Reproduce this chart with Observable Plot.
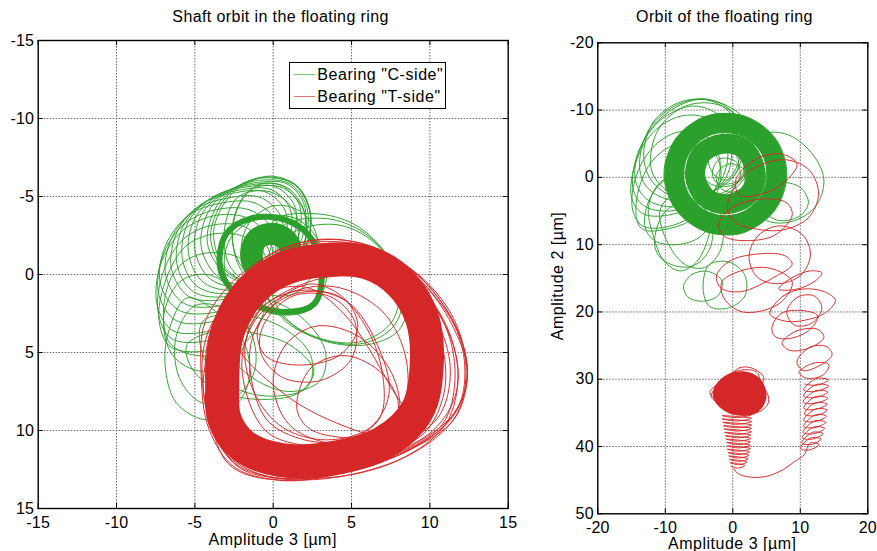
<!DOCTYPE html>
<html><head><meta charset="utf-8">
<script src="https://cdn.jsdelivr.net/npm/d3@7"></script>
<script src="https://cdn.jsdelivr.net/npm/@observablehq/plot@0.6"></script>
<style>
body{margin:0;background:#fff;}
#root{position:relative;width:877px;height:551px;overflow:hidden;font-family:"Liberation Sans",Arial,sans-serif;color:#000;background:#fff;}
#root svg{position:absolute;top:0;}
.t{position:absolute;font-size:16px;line-height:16px;white-space:nowrap;}
.c{transform:translateX(-50%);}
</style></head><body><div id="root"></div>
<script>
const GREEN = "#2ca02c", RED = "#d62728";

// ---------- tick values ----------
const leftXTicks = [-15, -10, -5, 0, 5, 10, 15];
const leftYTicks = [-15, -10, -5, 0, 5, 10, 15];
const rightXTicks = [-20, -10, 0, 10, 20];
const rightYTicks = [-20, -10, 0, 10, 20, 30, 40, 50];

// ---------- left panel: shaft orbit (x, y pairs, µm) ----------
const leftGreenLoops = [
 [0,-6.3, 1.6,-5.6, 2.4,-3.8, 2.0,-1.6, 0.6,0.2, -1.4,0.6, -3.2,-0.6, -3.8,-2.8, -2.8,-5.0, -1.4,-6.0],
 [-0.2,-6.25, 1.5,-5.7, 2.35,-4.0, 2.1,-1.8, 0.8,0.0, -1.2,0.6, -3.1,-0.3, -4.0,-2.4, -3.2,-4.7, -1.8,-5.9],
 [-0.4,-6.2, 1.3,-5.8, 2.3,-4.2, 2.2,-2.0, 1.0,-0.2, -1.0,0.6, -3.0,0.0, -4.2,-2.0, -3.6,-4.4, -2.2,-5.7],
 [-0.7,-6.05, 1.1,-5.8, 2.15,-4.3, 2.0,-2.1, 0.75,-0.2, -1.4,0.7, -3.5,0.15, -4.6,-1.8, -4.1,-4.1, -2.6,-5.5],
 [-1.0,-5.9, 0.9,-5.8, 2.0,-4.4, 1.8,-2.2, 0.5,-0.2, -1.8,0.8, -4.0,0.3, -5.0,-1.6, -4.6,-3.8, -3.0,-5.3],
 [-1.4,-5.75, 0.55,-5.7, 1.7,-4.35, 1.5,-2.1, 0.1,0.0, -2.2,1.0, -4.4,0.55, -5.4,-1.3, -5.0,-3.6, -3.4,-5.15],
 [-1.8,-5.6, 0.2,-5.6, 1.4,-4.3, 1.2,-2.0, -0.3,0.2, -2.6,1.2, -4.8,0.8, -5.8,-1.0, -5.4,-3.4, -3.8,-5.0],
 [-2.2,-5.4, -0.15,-5.45, 1.1,-4.15, 0.9,-1.8, -0.55,0.4, -2.9,1.4, -5.1,1.1, -6.15,-0.7, -5.75,-3.1, -4.2,-4.75],
 [-2.6,-5.2, -0.5,-5.3, 0.8,-4.0, 0.6,-1.6, -0.8,0.6, -3.2,1.6, -5.4,1.4, -6.5,-0.4, -6.1,-2.8, -4.6,-4.5],
 [-2.9,-4.9, -0.85,-4.95, 0.5,-3.7, 0.4,-1.4, -1.0,0.9, -3.4,2.0, -5.7,1.85, -6.85,0.1, -6.5,-2.3, -5.0,-4.15],
 [-3.2,-4.6, -1.2,-4.6, 0.2,-3.4, 0.2,-1.2, -1.2,1.2, -3.6,2.4, -6.0,2.3, -7.2,0.6, -6.9,-1.8, -5.4,-3.8],
 [-3.4,-4.2, -1.4,-4.1, 0,-2.8, 0,-0.6, -1.4,1.8, -3.8,3.0, -6.2,2.95, -7.3,1.3, -7.05,-1.2, -5.6,-3.3],
 [-3.6,-3.8, -1.6,-3.6, -0.2,-2.2, -0.2,0.0, -1.6,2.4, -4.0,3.6, -6.4,3.6, -7.4,2.0, -7.2,-0.6, -5.8,-2.8],
 [-3.7,-3.2, -1.7,-3.0, -0.3,-1.6, -0.35,0.7, -1.8,3.1, -4.2,4.25, -6.5,4.1, -7.35,2.4, -7.0,-0.2, -5.7,-2.3],
 [-3.8,-2.6, -1.8,-2.4, -0.4,-1.0, -0.5,1.4, -2.0,3.8, -4.4,4.9, -6.6,4.6, -7.3,2.8, -6.8,0.2, -5.6,-1.8],
 [-4.0,-1.4, -2.0,-1.0, -0.6,0.6, -0.8,3.0, -2.4,4.8, -4.8,5.2, -6.6,4.4, -7.0,2.2, -6.4,0.0, -5.4,-1.0],
 [-1.5,-5.4, 0.5,-5.6, 1.9,-4.2, 2.0,-1.8, 1.0,0.2, -0.8,0.5, -2.2,-0.8, -2.6,-3.2],
 [-2.2,-5.0, -0.2,-5.3, 1.4,-4.0, 1.5,-1.6, 0.4,0.4, -1.4,0.6, -2.8,-0.6, -3.1,-3.0],
 [-0.8,-5.8, 1.0,-5.5, 2.1,-3.6, 1.6,-1.0, 0.0,0.4, -1.8,0.0, -2.6,-2.2, -2.1,-4.6],
 [-5.5,1.5, -3.5,2.5, -1.8,4.5, -1.6,7.0, -2.8,8.8, -4.4,9.3, -6.2,8.2, -6.9,5.8, -6.6,3.4],
 [-6.0,0.5, -4.2,0.0, -2.4,1.2, -1.6,3.6, -2.6,5.6, -4.6,6.2, -6.4,5.2, -7.0,2.8],
 [-5.0,2.0, -3.0,2.2, -1.4,3.8, -1.2,6.2, -2.6,8.0, -4.6,8.2, -6.0,6.6, -6.2,4.0],
 [-5.5,4.5, -3.5,3.6, -1.0,3.8, 1.2,4.6, 2.6,6.2, 1.6,7.6, -1.0,8.0, -3.6,7.4, -5.2,6.0],
 [-4.5,3.0, -2.0,2.6, 0.6,3.4, 2.4,5.2, 2.2,7.2, 0.0,7.8, -2.6,7.2, -4.4,5.4],
 [0.5,-3.0, 3.2,-3.6, 5.6,-2.8, 7.6,-0.8, 8.6,1.6, 8.0,3.6, 6.0,4.5, 3.4,4.3, 1.2,3.2, -0.4,1.2],
 [0,-3.4, 2.6,-3.9, 5.2,-3.2, 7.3,-1.2, 8.3,1.2, 7.7,3.3, 5.8,4.4, 3.2,4.2, 0.8,3.0, -0.6,0.8],
 [1.0,-2.5, 4.0,-3.2, 6.5,-2.0, 8.0,0.5, 7.6,3.0, 5.6,4.3, 3.0,4.1, 0.8,2.8, -0.2,0.6],
 [-3.0,0.2, -2.8,-2.2, -1.0,-3.6, 1.4,-3.6, 3.0,-2.0, 3.4,0.3, 2.4,2.2, 0.6,2.6, -1.4,2.0],
 [-2.0,-1.0, -1.6,-3.2, 0.0,-4.4, 1.8,-4.0, 2.8,-2.4, 2.6,-0.2, 1.4,1.2, -0.4,1.2],
 [-3.0,2.0, -1.0,1.5, 1.5,2.5, 3.3,4.8, 3.0,6.8, 1.0,7.5, -1.5,6.5, -3.2,4.4]
];
const leftGreenCore = [-1.4,-1.4, -1.0,-2.3, 0.1,-2.6, 1.0,-2.0, 1.1,-0.8, 0.4,0.0, -0.6,0.0, -1.2,-0.5];
const leftGreenRing = [-3.4,-0.5, -3.0,-2.6, -1.4,-3.6, 0.8,-3.5, 2.5,-2.2, 3.1,0.1, 2.6,1.9, 1.0,2.4, -1.0,2.0, -2.7,0.9];

const leftRedCore = [-3.25,7, -3.0,4.0, -1.8,1.5, 0.3,-0.2, 3,-0.9, 5.9,-0.8, 8.1,0.5, 9.5,2.8, 9.8,5.8, 9.2,8.7, 7,10.8, 3.6,11.8, 0.5,11.9, -1.9,11, -3.1,9.3];
const leftRedLoops = [
 [-4.5,7, -4.2,3.8, -2.5,1.2, 0,-1.2, 3,-2.1, 6.5,-1.6, 9.8,0.8, 12,4.2, 12.3,7.2, 10.8,9.8, 7.5,11.8, 3,13, -0.5,12.9, -3.2,11.3],
 [-4.2,7.5, -3.8,4.2, -2.2,1.6, 0.3,-0.9, 3.4,-1.9, 6.8,-1.4, 9.6,0.6, 11.6,3.6, 12.4,6.4, 11.4,9.2, 8.3,11.4, 3.8,12.8, 0,13, -2.8,11.8],
 [-4.6,6.4, -4.4,3.2, -3,0.9, -0.5,-1.1, 2.5,-2.2, 5.5,-2, 8.8,-0.3, 11.2,2.5, 12.2,5.5, 11.8,8.5, 9.5,10.6, 5.5,12.3, 1.2,13.2, -2.4,12.4, -4.1,9.9],
 [-4.3,6.8, -4.0,3.6, -2.6,1.0, -0.2,-1.3, 2.8,-2.2, 6.0,-1.9, 9.2,0.0, 11.6,3.2, 12.4,6.2, 11.6,9.2, 8.8,11.2, 4.5,12.7, 0.4,13.2, -2.9,12.1],
 [-4.4,8.0, -4.1,4.8, -2.8,2.0, -0.4,-0.2, 2.6,-1.4, 5.9,-1.6, 9.0,-0.2, 11.4,2.6, 12.3,5.8, 11.7,9.0, 9.0,11.4, 4.6,12.9, 0.6,13.1, -2.4,12.2],
 [-4.0,8.6, -3.9,5.6, -2.9,2.8, -0.8,0.4, 2.2,-1.0, 5.6,-1.2, 8.6,0.2, 10.8,2.9, 11.8,6.2, 11.0,9.6, 8.0,11.9, 3.8,13.0, 0.0,12.8, -2.8,11.6],
 [-3.9,6.9, -3.7,4.0, -2.3,1.5, 0.1,-0.3, 3.1,-1.2, 6.3,-1.0, 9.3,0.8, 11.1,3.6, 11.6,6.8, 10.8,9.6, 7.9,11.5, 3.4,12.6, -0.4,12.7, -3.0,11.2],
 [-3.8,7.3, -3.5,4.5, -2,2, 0.5,0.2, 3.5,-0.8, 6.5,-0.5, 9,1.2, 10.8,3.8, 11.3,6.6, 10.5,9.2, 7.8,11, 3.5,12.3, -0.2,12.4, -2.8,11],
 [-3.5,6.6, -3.2,3.9, -1.7,1.5, 0.8,-0.5, 4,-1.3, 7.2,-0.8, 9.9,1.4, 11.5,4.5, 11.7,7.5, 10.2,10, 6.6,11.8, 2.4,12.6, -1,12, -3,10.1],
 [-4,7.8, -3.6,5, -2.4,2.6, -0.2,0.6, 2.8,-0.6, 6,-0.4, 8.7,1.2, 10.3,4.2, 10.6,7.2, 9.6,9.8, 6.8,11.5, 2.8,12.6, -0.6,12.5, -3,11.4],
 [-3.2,7.2, -2.9,4.4, -1.6,2.0, 0.6,0.4, 3.5,-0.5, 6.4,-0.3, 8.9,1.4, 10.3,4.0, 10.6,7.0, 9.8,9.6, 7.2,11.2, 3.2,12.2, -0.2,12.0, -2.6,10.6],
 [-3.0,6.4, -2.8,3.7, -1.4,1.4, 1.0,-0.2, 4.0,-0.9, 7.0,-0.5, 9.4,1.4, 10.8,4.6, 10.9,7.6, 9.6,10.2, 6.2,11.7, 2.2,12.2, -1.0,11.4, -2.8,9.4],
 [-2.6,7.6, -2.3,4.6, -1.0,2.4, 1.2,0.9, 4.0,0.1, 6.8,0.4, 8.9,2.1, 9.9,4.9, 9.8,7.9, 8.6,10.0, 5.6,11.2, 2.0,11.6, -1.0,11.0, -2.4,9.6],
 [-1.5,5, -0.5,2.5, 1.5,1.2, 4.2,1.4, 6,3.5, 7,6.5, 6.8,9.2, 4.8,10.6, 2,10.6, -0.5,9.2],
 [-1,3.5, 0.5,1.5, 2.5,0.6, 4.6,1.6, 5.4,3.4, 4.2,5.2, 1.5,5.8, -0.5,5.2],
 [-2,6, -1.2,3, 1,1.2, 4,0.8, 7,2.4, 8.5,5.5, 8.2,8.8, 6,10.5, 2.5,11, -0.5,10],
 [0,7, 0.8,4.5, 2.8,3.3, 5.5,4, 7.6,6.4, 8,9, 6.5,10.6, 3.5,10.8, 1,9.6],
 [-2.5,4, -1,1.5, 2,0.8, 4.5,2.5, 7.5,7.2, 8.6,9.4, 7,10.3, 4,9.5, 0.5,7.5],
 [-1.8,4.6, -0.6,2.0, 2.0,1.0, 4.8,1.8, 6.6,4.4, 7.4,7.6, 6.2,9.8, 3.4,10.6, 0.6,9.8, -1.2,7.6],
 [-0.6,3.2, 1.2,1.4, 3.6,1.4, 5.2,3.0, 5.0,5.4, 3.0,6.8, 0.6,6.6, -0.8,5.0],
 [1.5,8.5, 2.4,6.0, 4.6,5.2, 7.0,6.4, 8.0,8.6, 6.8,10.2, 4.0,10.4, 2.2,9.8]
];

// ---------- right panel: floating ring orbit ----------
const rightGreenRing = [6.5,-0.5, 5.05,3.97, 1.25,6.73, -3.45,6.73, -7.25,3.97, -8.7,-0.5, -7.25,-4.97, -3.45,-7.73, 1.25,-7.73, 5.05,-4.97];
const rightGreenInner = [3.4,-0.5, 2.3,2.6, -0.9,4.0, -4.1,2.9, -5.6,-0.2, -4.6,-3.5, -1.5,-5.0, 1.7,-4.2];
const rightGreenLoops = [
 [8,-0.5, 6.3,4.8, 1.7,8.1, -3.9,8.1, -8.4,4.8, -10.2,-0.5, -8.4,-5.8, -3.9,-9.1, 1.7,-9.1, 6.3,-5.8],
 [7.6,0.3, 5.6,5.4, 1,8.4, -4.2,7.8, -8.4,4.2, -9.8,-1, -7.8,-6.4, -3,-9.3, 2.2,-8.8, 6.4,-5.2],
 [7.3,-1.5, 5.9,3.8, 1.6,7.5, -3.6,7.9, -7.9,5.1, -9.6,0.2, -8.3,-5.1, -4.3,-8.6, 1.0,-8.9, 5.6,-6.2],
 [7.0,0.8, 5.0,5.6, 0.4,8.2, -4.8,7.4, -8.6,3.6, -9.4,-1.6, -7.0,-6.6, -2.4,-9.0, 2.6,-8.4, 6.0,-4.8],
 [-13.2,-3, -11.8,-8.2, -7.5,-11.3, -2.5,-11.3, 1.8,-8.6, 3,-4, 1.2,0.8, -3,3.2, -8,3.2, -11.8,0.8],
 [-12.2,-2.0, -11.0,-7.2, -7.0,-10.6, -2.2,-10.8, 1.6,-8.0, 2.4,-3.4, 0.4,1.0, -3.6,3.0, -8.2,2.8, -11.2,0.6],
 [-13.8,-1.4, -12.6,-6.8, -8.6,-10.6, -3.6,-11.6, 0.4,-9.2, 1.6,-4.6, 0.0,0.0, -4.2,2.6, -9.0,3.4, -12.6,1.6],
 [-14.5,0, -13.2,-5.5, -9.4,-9.8, -4.6,-11.6, -0.6,-9.8, 1.2,-5.6, 0.2,-0.8, -3.8,2.6, -8.6,4.4, -12.8,3.2],
 [-14.8,1.6, -13.9,-4.0, -10.6,-8.6, -5.8,-10.6, -1.8,-9.0, -0.2,-4.8, -1.0,0.0, -4.6,3.4, -9.4,5.0, -13.2,4.2],
 [-15,3, -14.3,-2.5, -11.5,-7, -7.2,-9.2, -3,-8.4, -0.8,-4.5, -1.6,0.2, -5,3.8, -9.5,5.6, -13.3,5.4],
 [-14.8,5, -14.6,0.8, -12.4,-3.8, -8.6,-6.6, -4.4,-6.4, -2,-3, -2.6,1.8, -5.8,5.6, -10,7.4, -13.4,7.2],
 [-14.2,6.4, -14.0,2.0, -11.8,-2.6, -7.8,-5.2, -3.8,-4.8, -1.8,-1.4, -2.8,3.2, -6.2,6.4, -10.4,7.8, -13.2,7.8],
 [-13.0,7.4, -12.4,3.4, -9.8,0.2, -6.0,-0.8, -3.4,1.4, -2.8,5.4, -4.8,8.8, -8.4,10.0, -11.6,9.4],
 [-12.5,4.5, -11,1, -7.8,-0.6, -4.6,0.6, -3.2,4, -3.6,8.8, -5.4,12.6, -7.8,13.9, -10.2,12.4, -11.8,8.6],
 [-11.6,9.6, -10.4,5.6, -7.6,3.6, -4.6,4.2, -3.0,7.4, -3.6,11.0, -6.0,13.2, -9.0,13.0, -11.0,11.6],
 [-10.8,5, -8.5,2.2, -5.2,1.6, -2.6,3.6, -1.4,7.4, -2,11.2, -4.2,13.4, -7,13, -9.6,9.8],
 [-7.3,16.2, -6,14.4, -3.6,14, -1.6,15.4, -2.2,17.6, -4.6,18.4, -6.6,17.8],
 [-3.5,13, -0.5,12.6, 1.8,14.6, 1.8,17.6, -0.6,19.4, -3.4,19.2, -4.4,16.6],
 [2,-4.5, 5,-6.6, 8.5,-6.2, 12,-3.2, 13.5,0.5, 12.2,4.4, 8.6,6.6, 5,6.4, 2.6,3.6],
 [4,2.5, 7,0.8, 10,1.5, 11.2,3.8, 9.8,5.8, 6.8,6.4, 4.6,5],
 [5.0,-0.8, 3.8,3.4, 0.2,5.8, -4.0,5.6, -6.8,2.6, -7.2,-1.8, -5.2,-5.6, -1.4,-6.8, 2.6,-5.6, 4.6,-3.4],
 [3.8,0.2, 2.0,3.8, -1.8,4.8, -5.2,3.0, -6.2,-0.8, -4.6,-4.6, -1.0,-5.8, 2.6,-4.2],
 [4.4,-1.8, 3.2,2.6, -0.6,4.8, -4.6,4.2, -6.6,0.8, -5.6,-3.6, -2.4,-6.0, 1.6,-5.6],
 [-6.5,-1, -5,-5.5, -1.2,-6.8, 2.6,-5, 4,-1.2, 2.4,2.6, -1.4,4.2, -5,2.8],
 [-8,1.5, -7.2,-3.5, -3.6,-6.6, 1,-6.4, 4.4,-3.4, 5,1, 2.4,4.8, -2.4,6, -6.2,4.4],
 [-4.5,-2, -2.8,-4, 0,-4.2, 1.8,-2.4, 1.2,0.4, -1.4,1.4, -3.8,0.6],
 [-3,-1, -1.8,-2.8, 0.6,-2.2, 1,0.2, -0.8,1, -2.6,0.6],
 [-3.6,-3.0, -1.8,-4.0, 0.4,-3.4, 0.8,-1.2, -0.8,0.4, -2.8,-0.4],
 [-2.4,-0.4, -0.6,-2.0, 1.8,-1.0, 1.6,1.4, -0.4,2.2, -2.0,1.4]
];
const rightRedLoops = [
 [0.4,0.5, 3.1,-2.5, 7.1,-3.5, 9.5,-2.0, 8.2,0.2, 5.6,2.0, 1.1,2.7],
 [-0.8,4.5, 0.8,0.6, 4.0,-1.8, 8.0,-2.6, 11.4,-1.0, 12.7,2.5, 11.2,6.0, 7.5,7.8, 3.6,7.7, 0.5,6.8],
 [-2.1,7.0, 0.0,4.4, 4.6,3.2, 8.0,3.8, 8.8,5.6, 6.2,8.6, 2.1,9.4, -1.2,8.8],
 [2.4,11.8, 3.8,8.6, 7.0,7.2, 10.4,8.6, 11.5,11.6, 10.0,14.6, 6.6,15.8, 3.6,14.8],
 [-2.4,14.6, -0.4,12.4, 3.6,11.4, 7.6,11.6, 8.8,12.9, 6.2,14.8, 1.1,17.0, -1.8,16.4],
 [-1.6,15.5, 1.5,13.8, 5.5,13.5, 8.8,15.5, 7.2,18.5, 3.5,20.0, 0.8,19.8, -1.4,17.8],
 [6.8,16.6, 8.6,15.0, 11.5,13.9, 13.2,14.2, 12.2,15.4, 9.5,16.6],
 [5.5,20.3, 7.5,17.6, 10.4,16.6, 13.6,17.0, 15.2,18.3, 13.6,20.2, 10.8,21.2, 8.0,21.4],
 [8.0,20.0, 9.6,17.8, 12.0,17.6, 13.2,19.4, 11.8,21.6, 9.2,22.0],
 [5.8,22.3, 7.2,20.2, 10.4,19.8, 12.6,20.6, 11.2,22.8, 8.0,24.0, 6.2,23.6],
 [7.3,24.6, 9.5,22.8, 12.6,22.6, 13.5,23.8, 11.2,25.4, 8.4,25.7],
 [9.5,27.4, 11.5,25.2, 14.0,25.2, 14.7,26.4, 12.8,28.0, 10.4,28.7],
 [9.8,29.0, 12.0,27.6, 14.2,27.8, 13.6,29.2, 11.2,29.9]
];
const rightRedCoilA = [
 10.6,30.7, 12.4,30.9, 14.2,30.1, 12.4,29.9,
 10.5,31.6, 12.3,31.8, 14.2,31.0, 12.3,30.8,
 10.5,32.5, 12.3,32.7, 14.1,31.9, 12.3,31.7,
 10.4,33.4, 12.2,33.6, 14.1,32.8, 12.2,32.6,
 10.5,34.3, 12.2,34.5, 14.0,33.7, 12.2,33.5,
 10.6,35.2, 12.3,35.4, 14.0,34.6, 12.3,34.4,
 10.5,36.1, 12.2,36.3, 13.9,35.5, 12.2,35.3,
 10.5,37.0, 12.1,37.2, 13.8,36.4, 12.1,36.2,
 10.4,37.9, 12.0,38.1, 13.6,37.3, 12.0,37.1,
 10.3,38.7, 11.8,38.9, 13.4,38.1, 11.8,37.9,
 10.2,39.5, 11.6,39.7, 13.1,38.9, 11.6,38.7,
 10.0,40.3, 11.4,40.5, 12.8,39.7, 11.4,39.5,
 10.6,41.2, 9.2,42.2, 7.5,43.4, 5.5,44.3, 3.5,44.6, 1.8,44.4, 0.6,43.9, 0.2,43.3
];
const rightRedCoilB = [
 -0.3,42.9, 0.75,43.2, 1.8,42.8, 0.75,42.55,
 -0.4,42.4, 0.85,42.7, 2.1,42.3, 0.85,42.05,
 -0.5,41.9, 0.9,42.2, 2.3,41.8, 0.9,41.55,
 -0.6,41.4, 0.9,41.7, 2.4,41.3, 0.9,41.05,
 -0.7,40.9, 0.9,41.2, 2.5,40.8, 0.9,40.55,
 -0.8,40.4, 0.9,40.7, 2.6,40.3, 0.9,40.05,
 -0.8,39.9, 0.9,40.2, 2.6,39.8, 0.9,39.55,
 -0.9,39.4, 0.85,39.7, 2.6,39.3, 0.85,39.05,
 -1.0,38.9, 0.85,39.2, 2.7,38.8, 0.85,38.55,
 -1.1,38.4, 0.8,38.7, 2.7,38.3, 0.8,38.05,
 -1.2,37.9, 0.8,38.2, 2.8,37.8, 0.8,37.55,
 -1.3,37.4, 0.75,37.7, 2.8,37.3, 0.75,37.05,
 -1.4,36.9, 0.7,37.2, 2.8,36.8, 0.7,36.55,
 -1.5,36.4, 0.65,36.7, 2.8,36.3, 0.65,36.05,
 -1.6,35.9, 0.6,36.2, 2.8,35.8, 0.6,35.55,
 -1.6,35.4, 0.55,35.7, 2.7,35.3, 0.55,35.05
];
const rightRedBlobCore = [-1.2,32.2, -0.2,31.0, 1.4,30.6, 2.8,31.2, 3.2,32.6, 2.4,33.6, 0.8,33.6, -0.3,33.2];
const rightRedBlobLoops = [
 [-3.4,32, -2,30.6, 0,30.2, 2.4,30.8, 3,32.2, 1.4,33.6, -1.4,33.6],
 [-0.5,30, 1,28.3, 3,28.4, 4.6,29.8, 3.8,31.2, 1.5,31.2],
 [0.2,33, 2.8,31, 4.8,31.6, 5.3,33.4, 4,34.8, 1.5,34.9],
 [-0.6,29.4, 1.6,28.6, 3.6,29, 3.9,30.6, 1.8,31, 0,30.6],
 [-3.2,32.6, -2.4,31.2, -0.4,30.8, 1.0,31.8, 0.2,33.4, -1.8,33.6]
];

// ---------- helpers ----------
const pairs = (a, k = 0) => d3.range(0, a.length, 2).map(i => ({x: a[i], y: a[i + 1], k}));
const table = loops => loops.flatMap((a, k) => pairs(a, k));
const loopMark = (loops, stroke, w) => Plot.line(table(loops), {x: "x", y: "y", z: "k", curve: "catmull-rom-closed", stroke, strokeWidth: w, strokeLinejoin: "round"});
const pathMark = (arr, stroke, w) => Plot.line(pairs(arr), {x: "x", y: "y", curve: "catmull-rom", stroke, strokeWidth: w, strokeLinejoin: "round"});

function panel({width, ml, mr, mt, mb, xDomain, yDomain, xTicks, yTicks, layers}) {
  const height = 551;
  const iw = width - ml - mr, ih = height - mt - mb;
  const gridStyle = {stroke: "#3a3a3a", strokeOpacity: 0.75, strokeWidth: 1, strokeDasharray: "1.5,1.5"};
  return Plot.plot({
    width, height, marginLeft: ml, marginRight: mr, marginTop: mt, marginBottom: mb,
    style: {fontFamily: "'Liberation Sans', Arial, sans-serif", fontSize: "16px", letterSpacing: "0.2px", background: "transparent", color: "#000", overflow: "visible"},
    x: {domain: xDomain, ticks: xTicks, tickSize: 0, tickPadding: 8, tickFormat: d => String(d), label: null},
    y: {domain: yDomain, reverse: true, ticks: yTicks, tickSize: 0, tickPadding: 4, tickFormat: d => String(d), label: null},
    marks: [
      Plot.ruleX(xTicks.slice(1, -1), gridStyle),
      Plot.ruleY(yTicks.slice(1, -1), gridStyle),
      ...layers,
      Plot.ruleX(xTicks, {insetTop: ih - 5, stroke: "#000"}),
      Plot.ruleX(xTicks, {insetBottom: ih - 5, stroke: "#000"}),
      Plot.ruleY(yTicks, {insetRight: iw - 5, stroke: "#000"}),
      Plot.ruleY(yTicks, {insetLeft: iw - 5, stroke: "#000"}),
      Plot.frame({stroke: "#000", strokeWidth: 1.4})
    ]
  });
}

const left = panel({
  width: 530, ml: 37.7, mr: 22.3, mt: 40, mb: 43,
  xDomain: [-15, 15], yDomain: [-15, 15], xTicks: leftXTicks, yTicks: leftYTicks,
  layers: [
    loopMark(leftGreenLoops, GREEN, 0.95),
    loopMark([leftGreenCore], GREEN, 22),
    loopMark([leftGreenRing], GREEN, 6),
    loopMark([leftRedCore], RED, 34),
    loopMark(leftRedLoops, RED, 0.95)
  ]
});
const right = panel({
  width: 337, ml: 57.3, mr: 9.7, mt: 42.3, mb: 37.7,
  xDomain: [-20, 20], yDomain: [-20, 50], xTicks: rightXTicks, yTicks: rightYTicks,
  layers: [
    loopMark(rightGreenLoops, GREEN, 0.95),
    loopMark([rightGreenRing], GREEN, 20),
    loopMark([rightGreenInner], GREEN, 20),
    loopMark(rightRedLoops, RED, 0.95),
    pathMark(rightRedCoilA, RED, 0.95),
    pathMark(rightRedCoilB, RED, 0.95),
    loopMark([rightRedBlobCore], RED, 24),
    loopMark(rightRedBlobLoops, RED, 0.95)
  ]
});
const root = document.getElementById("root");
left.style.left = "0px";
right.style.left = "540px";
root.appendChild(left);
root.appendChild(right);

function addText(txt, x, y, cls, extra) {
  const d = document.createElement("div");
  d.className = "t " + (cls || "");
  d.textContent = txt;
  d.style.left = x + "px";
  d.style.top = y + "px";
  if (extra) Object.assign(d.style, extra);
  root.appendChild(d);
  return d;
}
addText("Shaft orbit in the floating ring", 280.6, 9.2, "c", {letterSpacing: "0.4px"});
addText("Orbit of the floating ring", 724.4, 9.2, "c", {letterSpacing: "0.4px"});
addText("Amplitude 3 [\u00b5m]", 272.7, 531.5, "c", {letterSpacing: "0.5px"});
addText("Amplitude 3 [\u00b5m]", 732.3, 535.5, "c", {letterSpacing: "0.5px"});
addText("Amplitude 2 [\u00b5m]", 558, 276, "", {letterSpacing: "0.5px", transform: "translate(-50%,-50%) rotate(-90deg)"});

// legend
const box = document.createElement("div");
Object.assign(box.style, {position: "absolute", left: "289.3px", top: "62.3px", width: "156.4px", height: "47px", boxSizing: "border-box", border: "1px solid #000", background: "#fff"});
root.appendChild(box);
const legendItems = [["Bearing \"C-side\"", GREEN, 74.3, 67.2], ["Bearing \"T-side\"", RED, 96.7, 89.2]];
for (const [label, color, ly, ty] of legendItems) {
  const ln = document.createElement("div");
  Object.assign(ln.style, {position: "absolute", left: "294px", top: (ly - 0.5) + "px", width: "21px", height: "1px", background: color, opacity: "0.65"});
  root.appendChild(ln);
  addText(label, 317.3, ty, "", {letterSpacing: "0.55px"});
}
</script></body></html>
